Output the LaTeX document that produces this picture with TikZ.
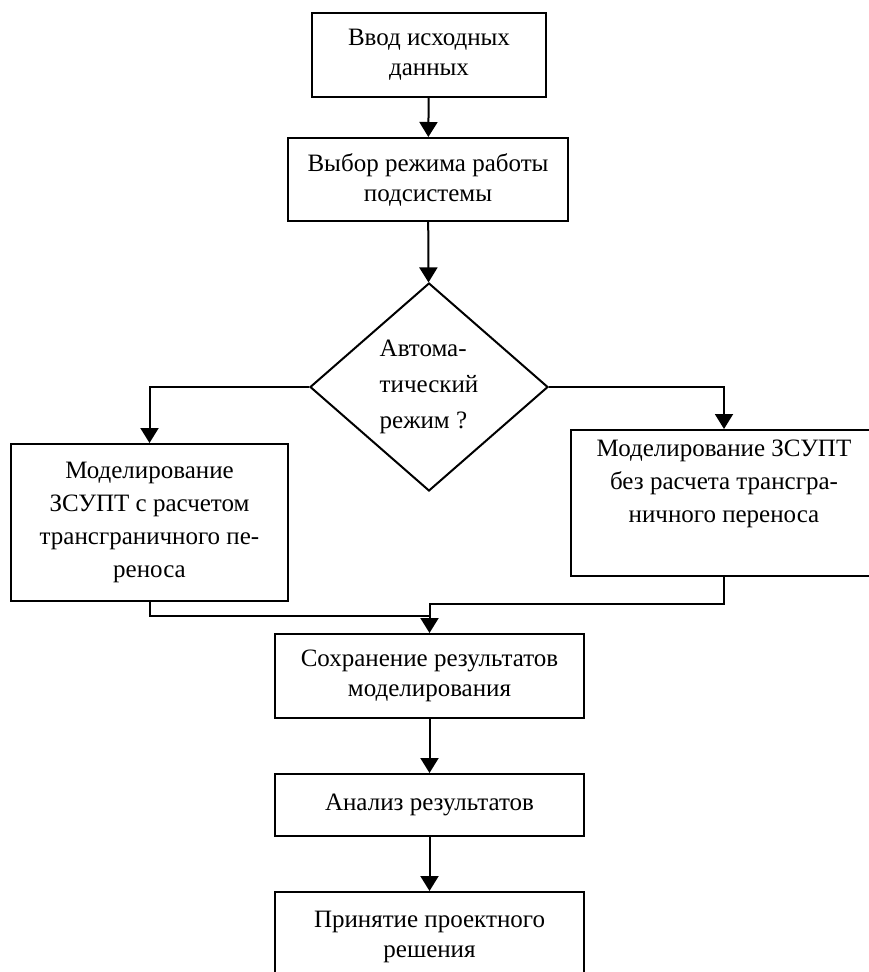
\documentclass[tikz,border=0pt]{standalone}
\usepackage{fontspec}
\setmainfont{Liberation Serif}
\usepackage{tikz}
\usetikzlibrary{shapes.geometric,arrows.meta}

\tikzset{
  box/.style={draw, rectangle, line width=2pt, align=center, inner sep=0pt,
    font=\fontsize{25pt}{30pt}\selectfont},
  tallbox/.style={box, font=\fontsize{25pt}{33pt}\selectfont},
  ask/.style={draw, diamond, line width=2pt, align=left, inner sep=0pt,
    font=\fontsize{25pt}{36pt}\selectfont},
  flow/.style={line width=2pt, -{Triangle[length=15pt,width=18pt]}},
  link/.style={line width=2pt}
}

\begin{document}
\begin{tikzpicture}[x=1pt, y=-1pt, line join=miter]
    \useasboundingbox (0,0) rectangle (868,972);

    % --- main column ---
    \node[box, minimum width=234pt, minimum height=84pt] (input) at (429,55)
      {Ввод исходных\\данных};
    \node[box, minimum width=280pt, minimum height=83pt] (mode) at (428,179.5)
      {Выбор режима работы\\подсистемы};
    \node[ask, minimum width=238pt, minimum height=208pt] (auto) at (429,387)
      {Автома-\\тический\\режим ?};

    % --- two branches ---
    \node[tallbox, minimum width=277pt, minimum height=157pt] (simwith) at (149.5,522.5)
      {Моделирование\\ЗСУПТ с расчетом\\трансграничного пе-\\реноса};
    \node[tallbox, minimum width=306pt, minimum height=146pt] (simwithout) at (724,503)
      {Моделирование ЗСУПТ\\без расчета трансгра-\\ничного переноса\\\strut};

    % --- after the merge ---
    \node[box, minimum width=309pt, minimum height=84pt] (save) at (429.5,676)
      {Сохранение результатов\\моделирования};
    \node[box, minimum width=309pt, minimum height=62pt] (analysis) at (429.5,805)
      {Анализ результатов};
    \node[box, minimum width=309pt, minimum height=90pt] (decision) at (429.5,937)
      {Принятие проектного\\решения};

    % arrows
    \draw[flow] (input) -- (mode);
    \draw[flow] (mode) -- (auto);
    \draw[flow] (auto.west) -| (simwith.north);
    \draw[flow] (auto.east) -| (simwithout.north);
    \draw[link] (simwith.south) |- ([yshift=17pt]save.north);
    \draw[flow] (simwithout.south) |- ([yshift=29pt]save.north) -- (save.north);
    \draw[flow] (save) -- (analysis);
    \draw[flow] (analysis) -- (decision);
  \end{tikzpicture}
\end{document}
